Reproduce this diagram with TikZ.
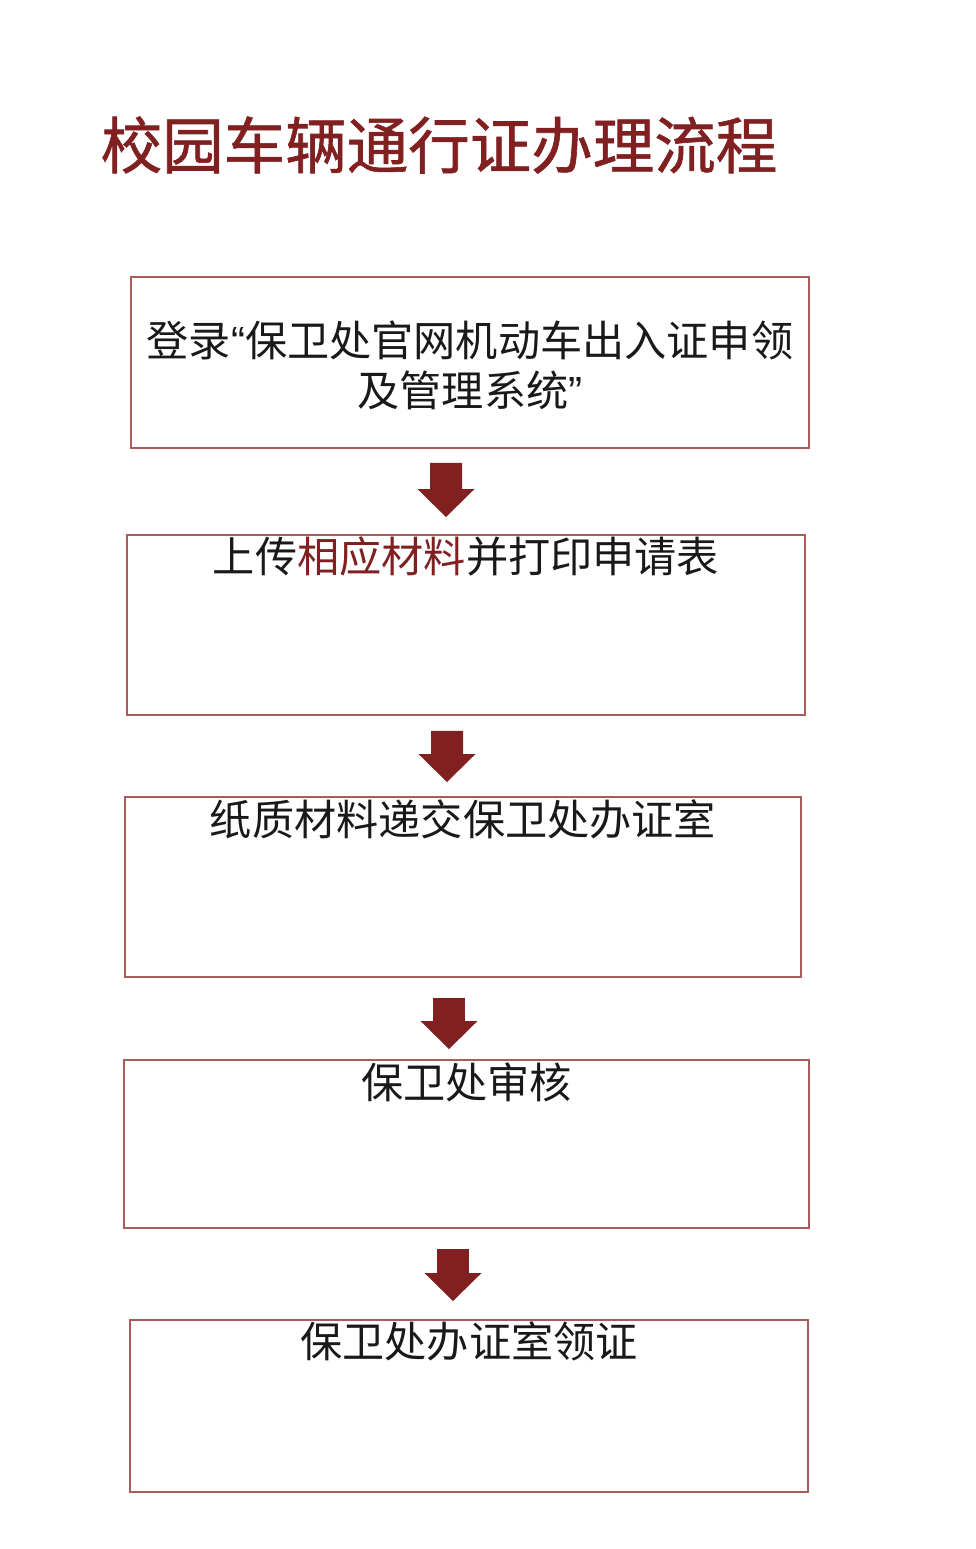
\documentclass[tikz,border=0pt]{standalone}
\usepackage{fontspec}
\setmainfont{Noto Sans CJK SC}
\newfontfamily\titlefont[FakeBold=1]{Noto Sans CJK SC}
\newfontfamily\quotefont{Liberation Sans}
\definecolor{flowred}{RGB}{128,32,32}
\definecolor{flowline}{RGB}{168,92,92}
\definecolor{flowtext}{RGB}{25,25,25}
\usetikzlibrary{arrows.meta,positioning}

\begin{document}
\begin{tikzpicture}[
  stepbox/.style={draw=flowline, line width=1.1pt, rectangle, inner sep=0pt},
  steptext/.style={font=\fontsize{24pt}{28.5pt}\selectfont, text=flowtext, inner sep=0pt},
  downarrow/.style={flowred, line width=0.64cm, -{Triangle[length=0.56cm,width=1.14cm,line width=0pt]}}]
  \useasboundingbox (0,0) rectangle (19.52,-30.98);
  \node[font=\titlefont\fontsize{35pt}{40pt}\selectfont, text=flowred, inner sep=0pt] (title) at (8.78,-2.90) {校园车辆通行证办理流程};
  \node[stepbox, minimum width=13.56cm, minimum height=3.42cm] (b1) at (9.40,-7.25) {};
  \node[stepbox, minimum width=13.56cm, minimum height=3.60cm] (b2) at (9.32,-12.50) {};
  \node[stepbox, minimum width=13.52cm, minimum height=3.60cm] (b3) at (9.26,-17.74) {};
  \node[stepbox, minimum width=13.70cm, minimum height=3.36cm] (b4) at (9.33,-22.88) {};
  \node[stepbox, minimum width=13.56cm, minimum height=3.44cm] (b5) at (9.38,-28.12) {};
  \node[steptext, align=center] (t1) at ([yshift=-0.05cm]b1.center) {登录{\quotefont “}保卫处官网机动车出入证申领\\及管理系统{\quotefont ”}};
  \node[steptext] (t2) at ([yshift=-0.44cm]b2.north) {上传\textcolor{flowred}{相应材料}并打印申请表};
  \node[steptext] (t3) at ([yshift=-0.46cm]b3.north) {纸质材料递交保卫处办证室};
  \node[steptext] (t4) at ([yshift=-0.46cm]b4.north) {保卫处审核};
  \node[steptext] (t5) at ([yshift=-0.44cm]b5.north) {保卫处办证室领证};
  \draw[downarrow, shorten <=0.28cm, shorten >=0.34cm] ([xshift=-0.48cm]b1.south) -- ([xshift=-0.40cm]b2.north);
  \draw[downarrow, shorten <=0.30cm, shorten >=0.28cm] ([xshift=-0.38cm]b2.south) -- ([xshift=-0.32cm]b3.north);
  \draw[downarrow, shorten <=0.40cm, shorten >=0.20cm] ([xshift=-0.28cm]b3.south) -- ([xshift=-0.35cm]b4.north);
  \draw[downarrow, shorten <=0.40cm, shorten >=0.36cm] ([xshift=-0.27cm]b4.south) -- ([xshift=-0.32cm]b5.north);
\end{tikzpicture}
\end{document}
